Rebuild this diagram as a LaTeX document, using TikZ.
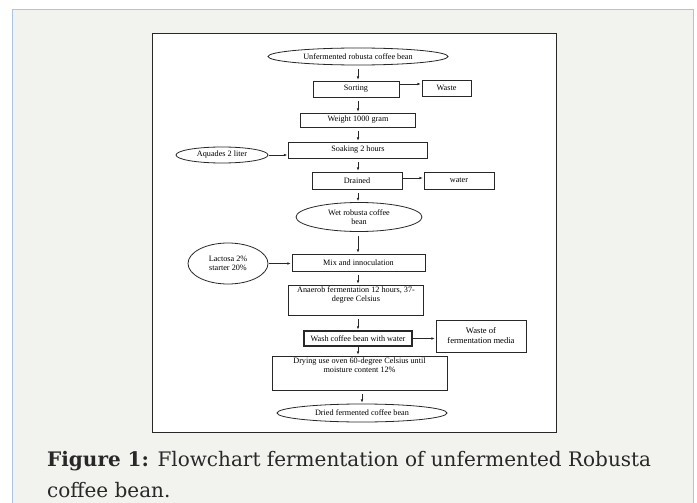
\documentclass[tikz,border=0pt]{standalone}
\usepackage{fontspec}
\setmainfont{Liberation Serif}
\newfontfamily\capfont{DejaVu Serif}
\usetikzlibrary{shapes.geometric,arrows.meta}
\definecolor{panelbg}{RGB}{242,242,238}
\definecolor{panelrule}{RGB}{168,198,230}
\definecolor{ink}{RGB}{40,40,40}
\tikzset{
  boxnode/.style={draw=ink, line width=0.7pt, inner sep=0pt, align=center,
    font=\fontsize{8.2}{9.5}\selectfont},
  ellnode/.style={ellipse, draw=ink, line width=0.8pt, inner sep=0pt, align=center,
    font=\fontsize{8.2}{9.5}\selectfont},
  flow/.style={draw=ink, line width=0.6pt, -{Latex[length=3.2pt,width=2.6pt]},
    shorten <=4pt, shorten >=1pt},
  sideflow/.style={draw=ink, line width=0.6pt, -{Latex[length=3.2pt,width=2.6pt]},
    shorten <=0.5pt, shorten >=1pt},
  toptext/.style={anchor=north, align=center, inner sep=1.5pt,
    font=\fontsize{8.2}{9.5}\selectfont}
}
\begin{document}
\begin{tikzpicture}[x=1pt,y=-1pt]
\useasboundingbox (0,0) rectangle (697,503);
\fill[white] (0,0) rectangle (697,503);
% outer panel
\filldraw[fill=panelbg, draw=panelrule, line width=1pt] (12,10) rectangle (693,506);
% inner white figure area
\filldraw[fill=white, draw=ink, line width=0.8pt] (152,33) rectangle (556,432);

% nodes
\node[ellnode, minimum width=180, minimum height=17] (e1) at (358,56.5) {Unfermented robusta coffee bean};
\node[boxnode, minimum width=86, minimum height=16] (sort) at (356,89) {Sorting};
\node[boxnode, minimum width=49, minimum height=16] (waste) at (446.5,88) {Waste};
\node[boxnode, minimum width=115, minimum height=14] (weight) at (358,120) {Weight 1000 gram};
\node[boxnode, minimum width=139, minimum height=16] (soak) at (358,150) {Soaking 2 hours};
\node[ellnode, minimum width=92, minimum height=16] (aq) at (222,155) {Aquades 2 liter};
\node[boxnode, minimum width=90, minimum height=17] (drain) at (357,180.5) {Drained};
\node[boxnode, minimum width=70, minimum height=17] (water) at (459,180.5) {water};
\node[ellnode, minimum width=126, minimum height=29] (wet) at (359,217) {Wet robusta coffee\\bean};
\node[boxnode, minimum width=133, minimum height=17] (mix) at (358.5,262.5) {Mix and innoculation};
\node[ellnode, minimum width=80, minimum height=41] (lac) at (228,263.5) {Lactosa 2\%\\starter 20\%};
\node[boxnode, minimum width=135, minimum height=30] (ana) at (356,300) {};
\node[toptext] at (ana.north) {Anaerob fermentation 12 hours, 37-\\degree Celsius};
\node[boxnode, line width=1.1pt, minimum width=108, minimum height=15] (wash) at (358,338.5) {Wash coffee bean with water};
\node[boxnode, minimum width=90, minimum height=32, font=\fontsize{8.6}{10}\selectfont] (wof) at (481,336) {Waste of\\fermentation media};
\node[boxnode, minimum width=175, minimum height=34] (dry) at (359.5,373) {};
\node[toptext] at (dry.north) {Drying use oven 60-degree Celsius until\\moisture content 12\%};
\node[ellnode, minimum width=170, minimum height=18] (dried) at (362,413) {Dried fermented coffee bean};

% vertical flow
\draw[flow] (e1.south) -- (e1.south |- sort.north);
\draw[flow] (sort.south -| e1.south) -- (e1.south |- weight.north);
\draw[flow] (weight.south) -- (weight.south |- soak.north);
\draw[flow] (soak.south) -- (soak.south |- drain.north);
\draw[flow] (drain.south -| soak.south) -- (soak.south |- wet.north);
\draw[flow] (wet.south -| soak.south) -- (soak.south |- mix.north);
\draw[flow] (mix.south -| soak.south) -- (soak.south |- ana.north);
\draw[flow] (ana.south -| soak.south) -- (soak.south |- wash.north);
\draw[flow, shorten <=0.5pt] (wash.south -| soak.south) -- (soak.south |- dry.north);
\draw[flow] (dry.south -| dried.north) -- (dried.north);

% side flows
\draw[sideflow] ([yshift=5pt]sort.east) -- ([yshift=5pt]sort.east -| waste.west);
\draw[sideflow] ([yshift=2.5pt]drain.east) -- ([yshift=2.5pt]drain.east -| water.west);
\draw[sideflow] (aq.east) -- (aq.east -| soak.west);
\draw[sideflow] (lac.east) -- (lac.east -| mix.west);
\draw[sideflow] (wash.east) -- (wash.east -| wof.west);

% caption
\node[anchor=north west, inner sep=0pt, align=left, text=ink,
  font=\capfont\fontsize{20}{31}\selectfont] (cap) at (47,451)
  {\textbf{Figure 1:} Flowchart fermentation of unfermented Robusta\\coffee bean.};
\end{tikzpicture}
\end{document}
